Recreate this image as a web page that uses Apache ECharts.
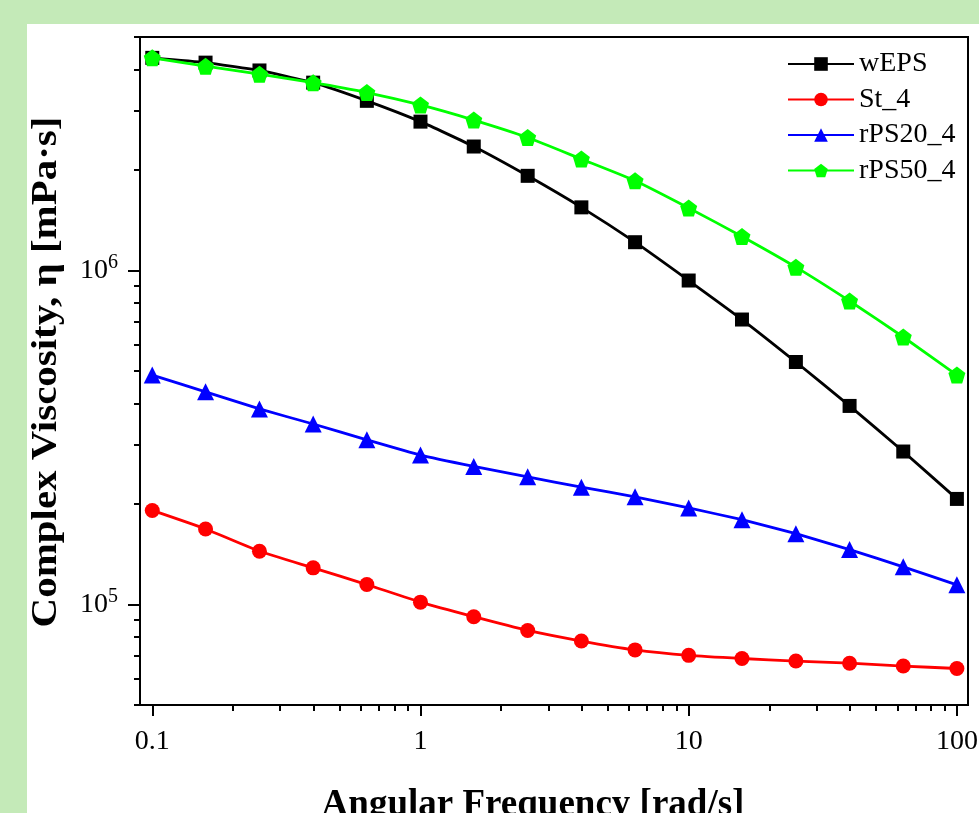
<!DOCTYPE html>
<html>
<head>
<meta charset="utf-8">
<script src="https://cdn.jsdelivr.net/npm/echarts@6/dist/echarts.min.js"></script>
<style>
  html, body { margin: 0; padding: 0; background: #c4eab8; }
  #panel { position: absolute; left: 27px; top: 24px; right: 0; bottom: 0; background: #fff; }
  #chart { position: absolute; left: 0; top: 0; width: 979px; height: 813px; }
</style>
</head>
<body>
<div id="panel"></div>
<div id="chart"></div>
<script>
// angular frequency [rad/s]
const freq = [0.1, 0.158, 0.251, 0.398, 0.631, 1, 1.58, 2.51, 3.98, 6.31, 10, 15.8, 25.1, 39.8, 63.1, 100]

// complex viscosity [mPa·s]
const wEPS = [4.33e6, 4.19e6, 3.97e6, 3.65e6, 3.22e6, 2.79e6, 2.35e6, 1.92e6, 1.545e6, 1.215e6, 9.33e5, 7.13e5, 5.32e5, 3.93e5, 2.87e5, 2.07e5]
const st4 = [1.912e5, 1.683e5, 1.443e5, 1.287e5, 1.147e5, 1.016e5, 9.19e4, 8.36e4, 7.77e4, 7.31e4, 7.04e4, 6.89e4, 6.77e4, 6.67e4, 6.54e4, 6.43e4]
const rps20 = [4.86e5, 4.33e5, 3.85e5, 3.47e5, 3.11e5, 2.80e5, 2.59e5, 2.41e5, 2.245e5, 2.10e5, 1.945e5, 1.794e5, 1.629e5, 1.46e5, 1.296e5, 1.145e5]
const rps50 = [4.33e6, 4.09e6, 3.87e6, 3.65e6, 3.41e6, 3.13e6, 2.82e6, 2.50e6, 2.155e6, 1.857e6, 1.539e6, 1.264e6, 1.023e6, 8.10e5, 6.32e5, 4.86e5]

const seriesNames = ['wEPS', 'St_4', 'rPS20_4', 'rPS50_4']

// ticks
const xMajor = [0.1, 1, 10, 100]
const xMinor = [0.2, 0.3, 0.4, 0.5, 0.6, 0.7, 0.8, 0.9, 2, 3, 4, 5, 6, 7, 8, 9, 20, 30, 40, 50, 60, 70, 80, 90]
const yMajor = [1e5, 1e6]
const yMinor = [5e4, 6e4, 7e4, 8e4, 9e4, 2e5, 3e5, 4e5, 5e5, 6e5, 7e5, 8e5, 9e5, 2e6, 3e6, 4e6, 5e6]

const FONT = 'Liberation Serif'
const pentagon = 'path://M0,-1 L0.951,-0.309 L0.588,0.809 L-0.588,0.809 L-0.951,-0.309 Z'

function pairs(ys) {
  return freq.map((x, i) => [x, ys[i]])
}

function mkSeries(name, ys, color, symbol, size) {
  return {
    name: name,
    type: 'line',
    data: pairs(ys),
    symbol: symbol,
    symbolSize: size,
    smooth: 0.15,
    lineStyle: { color: color, width: 2.8 },
    itemStyle: { color: color },
    emphasis: { disabled: true }
  }
}

const xBase = { type: 'log', logBase: 10, min: 0.09, max: 110, gridIndex: 0, position: 'bottom', splitLine: { show: false } }
const yBase = { type: 'log', logBase: 10, min: 5e4, max: 5e6, gridIndex: 0, position: 'left', splitLine: { show: false } }

let chart = echarts.init(document.getElementById('chart'))

chart.setOption({
  animation: false,
  grid: {
    left: 140,
    right: 11,
    top: 37,
    bottom: 108,
    show: true,
    borderColor: '#000',
    borderWidth: 2,
    outerBoundsMode: 'none'
  },
  legend: {
    data: seriesNames,
    orient: 'vertical',
    left: 787,
    top: 50,
    padding: 0,
    itemWidth: 66,
    itemHeight: 17,
    itemGap: 7.5,
    textStyle: { fontFamily: FONT, fontSize: 28, lineHeight: 26, color: '#000' }
  },
  xAxis: [
    Object.assign({}, xBase, {
      axisLine: { show: true, lineStyle: { color: '#000', width: 2 } },
      axisTick: { show: true, inside: false, length: 11, lineStyle: { color: '#000', width: 2 }, customValues: xMajor },
      axisLabel: {
        customValues: xMajor,
        margin: 23,
        color: '#000',
        fontFamily: FONT,
        fontSize: 28,
        formatter: v => String(+v.toPrecision(3))
      }
    }),
    Object.assign({}, xBase, {
      axisLine: { show: false },
      axisTick: { show: true, inside: false, length: 6, lineStyle: { color: '#000', width: 2 }, customValues: xMinor },
      axisLabel: { show: false }
    })
  ],
  yAxis: [
    Object.assign({}, yBase, {
      axisLine: { show: true, lineStyle: { color: '#000', width: 2 } },
      axisTick: { show: true, inside: false, length: 12, lineStyle: { color: '#000', width: 2 }, customValues: yMajor },
      axisLabel: {
        customValues: yMajor,
        margin: 22,
        color: '#000',
        fontFamily: FONT,
        formatter: v => '{a|10}{b|' + Math.round(Math.log10(v)) + '}',
        rich: {
          a: { fontFamily: FONT, fontSize: 28, color: '#000' },
          b: { fontFamily: FONT, fontSize: 20, color: '#000', padding: [0, 0, 15, 0] }
        }
      }
    }),
    Object.assign({}, yBase, {
      axisLine: { show: false },
      axisTick: { show: true, inside: false, length: 6, lineStyle: { color: '#000', width: 2 }, customValues: yMinor },
      axisLabel: { show: false }
    })
  ],
  graphic: [
    {
      type: 'text',
      x: 47,
      y: 372,
      rotation: Math.PI / 2,
      scaleX: 1.17,
      scaleY: 1.05,
      style: {
        text: 'Complex Viscosity, η [mPa·s]',
        fontFamily: FONT,
        fontWeight: 'bold',
        fontSize: 35,
        fill: '#000',
        align: 'center',
        verticalAlign: 'middle'
      }
    },
    {
      type: 'text',
      x: 533,
      y: 805,
      style: {
        text: 'Angular Frequency [rad/s]',
        fontFamily: FONT,
        fontWeight: 'bold',
        fontSize: 37,
        fill: '#000',
        align: 'center',
        verticalAlign: 'middle'
      }
    }
  ],
  series: [
    mkSeries(seriesNames[0], wEPS, '#000000', 'rect', 14),
    mkSeries(seriesNames[1], st4, '#ff0000', 'circle', 15),
    mkSeries(seriesNames[2], rps20, '#0000ff', 'triangle', 17),
    mkSeries(seriesNames[3], rps50, '#00ff00', pentagon, 17)
  ]
})
</script>
</body>
</html>
